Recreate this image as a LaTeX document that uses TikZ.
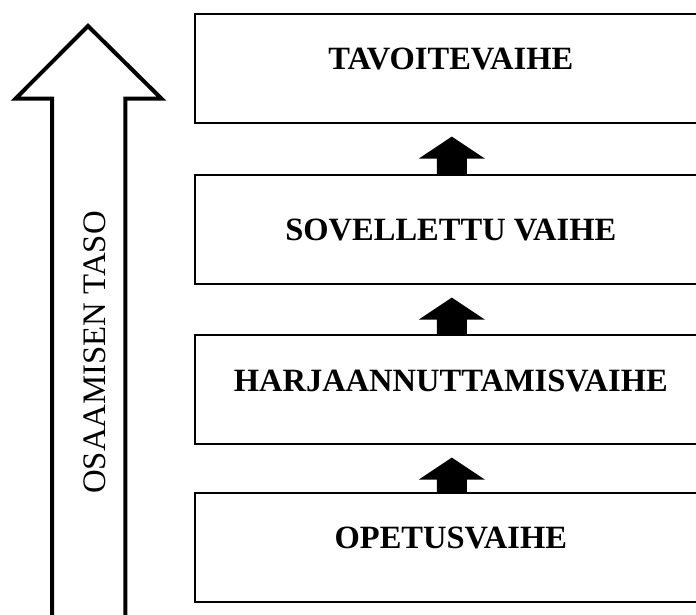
\documentclass[tikz,border=0pt]{standalone}
\usepackage{fontspec}
\setmainfont{Liberation Serif}
\usetikzlibrary{calc}
\newcommand\blockup[2]{%
  \fill[black] ($(#2.north)+(-15,1)$) -- ($(#1.south)+(-15,35)$) -- ($(#1.south)+(-33,35)$)
    -- ($(#1.south)+(0,13)$) -- ($(#1.south)+(33,35)$) -- ($(#1.south)+(15,35)$)
    -- ($(#2.north)+(15,1)$) -- cycle;}
\begin{document}
\begin{tikzpicture}[x=1pt,y=-1pt,
  stage/.style={draw, line width=1.6pt, rectangle, minimum width=514pt,
    minimum height=109pt, inner sep=0pt, anchor=north west},
  lbl/.style={font=\fontsize{32.5}{38}\selectfont\bfseries, inner sep=0pt, anchor=base},
  bigarrow/.style={draw, line width=4pt, miter limit=10, line join=miter}]
\useasboundingbox (0,0) rectangle (696,615);
\clip (0,0) rectangle (696,615);
\fill[white] (0,0) rectangle (696,615);
% big outline arrow
\draw[bigarrow] (52,640) -- (52,98.7) -- (15.5,98.7) -- (88,26) -- (161.5,98.7)
  -- (125.3,98.7) -- (125.3,640);
\node[rotate=90, anchor=base, inner sep=0pt, font=\fontsize{32.8}{38}\selectfont] (taso)
  at (105.5,352.5) {OSAAMISEN TASO};
% stage boxes
\node[stage] (b1) at (194,13) {};
\node[stage] (b2) at (194,174) {};
\node[stage] (b3) at (194,334) {};
\node[stage] (b4) at (194,492) {};
\node[lbl] (t1) at ($(b1.north)+(-1,56.5)$) {TAVOITEVAIHE};
\node[lbl] (t2) at ($(b2.north)+(-1,66)$) {SOVELLETTU VAIHE};
\node[lbl] (t3) at ($(b3.north)+(-1,57.5)$) {HARJAANNUTTAMISVAIHE};
\node[lbl] (t4) at ($(b4.north)+(-1,56)$) {OPETUSVAIHE};
% block arrows between stages
\blockup{b1}{b2}
\blockup{b2}{b3}
\blockup{b3}{b4}
\end{tikzpicture}
\end{document}
